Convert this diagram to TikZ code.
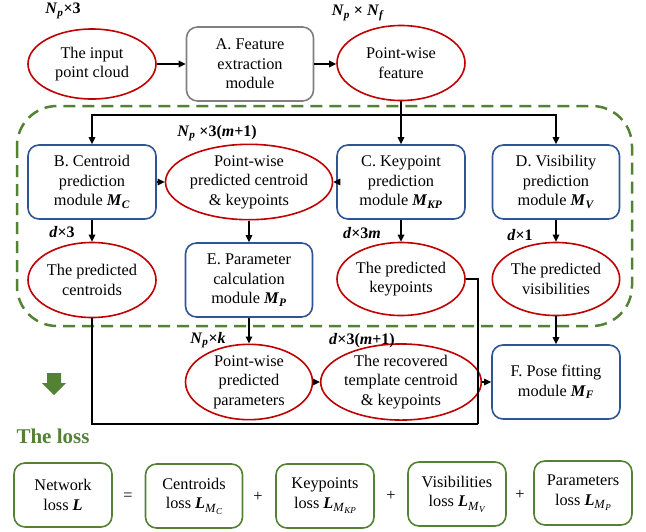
\documentclass[tikz,border=0pt]{standalone}
\usepackage{fontspec}
\setmainfont{Liberation Serif}
\usetikzlibrary{shapes.geometric,arrows.meta}
\definecolor{ered}{HTML}{C00000}
\definecolor{bblue}{HTML}{2F5597}
\definecolor{ggreen}{HTML}{548235}
\definecolor{ggray}{HTML}{7F7F7F}
\newcommand{\bi}[1]{\textbf{\textit{#1}}}
\newcommand{\mysub}[1]{\textsubscript{#1}}
\newcommand{\lsub}[2]{\raisebox{-3.5pt}{\fontsize{12.5}{12.5}\selectfont\textit{#1}\raisebox{-2pt}{\fontsize{9}{9}\selectfont\textit{#2}}}}
\tikzset{
  txt/.style={font=\fontsize{16.3}{19.5}\selectfont, align=center},
  ell/.style={txt, ellipse, draw=ered, line width=1.6pt, minimum width=128pt, minimum height=74pt, inner sep=0pt},
  bbox/.style={txt, rectangle, rounded corners=11pt, draw=bblue, line width=1.6pt, minimum width=128pt, minimum height=74pt, inner sep=0pt},
  gybox/.style={bbox, draw=ggray},
  lbox/.style={txt, rectangle, rounded corners=11pt, draw=ggreen, line width=1.6pt, minimum width=98pt, minimum height=64pt, inner sep=0pt},
  lab/.style={font=\fontsize{16}{19}\selectfont\bfseries, inner sep=0pt},
  op/.style={txt, inner sep=0pt},
  conn/.style={line width=1.5pt, -{Triangle[length=7pt,width=6.5pt]}},
  plain/.style={line width=1.5pt},
}
\begin{document}
\begin{tikzpicture}[x=1pt,y=-1pt]
\useasboundingbox (0,0) rectangle (646,531);

% dashed group
\draw[ggreen, line width=2.5pt, dash pattern=on 12pt off 7pt, rounded corners=40pt] (17,106) rectangle (632,326);

% top row
\node[ell, minimum height=70pt] (in) at (92,64) {The input\\point cloud};
\node[gybox, minimum width=127pt] (A) at (250,64) {A. Feature\\extraction\\module};
\node[ell, minimum height=75pt] (feat) at (401,63) {Point-wise\\feature};

% second row
\node[bbox] (B) at (92,182) {B. Centroid\\prediction\\module \bi{M}\mysub{\bi{C}}};
\node[ell, minimum width=133pt, minimum height=73pt] (P) at (249,182) {Point-wise\\predicted centroid\\\& keypoints};
\node[bbox] (C) at (401,182) {C. Keypoint\\prediction\\module \bi{M}\mysub{\bi{KP}}};
\node[bbox, minimum width=127pt] (D) at (556,182) {D. Visibility\\prediction\\module \bi{M}\mysub{\bi{V}}};

% third row
\node[ell, minimum height=75pt] (cen) at (92,280) {The predicted\\centroids};
\node[bbox, minimum width=127pt] (E) at (249,280) {E. Parameter\\calculation\\module \bi{M}\mysub{\bi{P}}};
\node[ell, minimum height=73pt] (kp) at (401,279) {The predicted\\keypoints};
\node[ell, minimum width=127pt, minimum height=73pt] (vis) at (556,279) {The predicted\\visibilities};

% fourth row
\node[ell, minimum width=127pt] (par) at (249,382) {Point-wise\\predicted\\parameters};
\node[ell] (rec) at (401,382) {The recovered\\template centroid\\\& keypoints};
\node[bbox] (F) at (556,382) {F. Pose fitting\\module \bi{M}\mysub{\bi{F}}};

% dimension labels
\node[lab] (l1) at (63,11) {\bi{N}\mysub{\bi{p}}×3};
\node[lab] (l2) at (358,13) {\bi{N}\mysub{\bi{p}} × \bi{N}\mysub{\bi{f}}};
\node[lab] (l3) at (217,133) {\bi{N}\mysub{\bi{p}} ×3(\bi{m}+1)};
\node[lab] (l4) at (62,232) {\bi{d}×3};
\node[lab] (l5) at (362,233) {\bi{d}×3\bi{m}};
\node[lab] (l6) at (520,235) {\bi{d}×1};
\node[lab] (l7) at (208,340) {\bi{N}\mysub{\bi{p}}×\bi{k}};
\node[lab] (l8) at (362,341) {\bi{d}×3(\bi{m}+1)};

% connectors
\draw[conn] (in.east |- A.west) -- (A.west);
\draw[conn] (A.east) -- (A.east -| feat.west);
\coordinate (s) at (401,115);
\draw[plain] (feat.south) -- (s);
\draw[conn] (s) -| (B.north);
\draw[conn] (s) -- (C.north);
\draw[conn] (s) -| (D.north);
\draw[conn] (B.east) -- (P.west);
\draw[conn] (C.west) -- (P.east);
\draw[conn] (P.south) -- (E.north);
\draw[conn] (B.south) -- (cen.north);
\draw[conn] (C.south) -- (kp.north);
\draw[conn] (D.south) -- (vis.north);
\draw[conn] (E.south) -- (par.north);
\draw[conn] (par.east) -- (rec.west);
\draw[conn] (rec.east) -- (F.west);
\draw[conn] (vis.south) -- (F.north);
\coordinate (j) at (478,424);
\draw[plain] (cen.south) |- (j);
\draw[plain] (kp.east) -| (j);

% green arrow and title
\fill[ggreen] (47,373) -- (61,373) -- (61,383) -- (66,383) -- (54,395) -- (42,383) -- (47,383) -- cycle;
\node[font=\fontsize{21}{24}\selectfont\bfseries, text=ggreen, inner sep=0pt] (loss) at (53,436) {The loss};

% loss row
\node[lbox] (ln) at (63,495) {Network\\loss \bi{L}};
\node[op] (eq) at (128,497) {=};
\node[lbox, minimum width=97pt] (lc) at (194,496) {Centroids\\loss \bi{L}\lsub{M}{C}};
\node[op] (p1) at (258,497) {+};
\node[lbox] (lk) at (325,496) {Keypoints\\loss \bi{L}\lsub{M}{KP}};
\node[op] (p2) at (391,496) {+};
\node[lbox] (lv) at (457,494) {Visibilities\\loss \bi{L}\lsub{M}{V}};
\node[op] (p3) at (520,495) {+};
\node[lbox] (lp) at (583,493) {Parameters\\loss \bi{L}\lsub{M}{P}};
\end{tikzpicture}
\end{document}
